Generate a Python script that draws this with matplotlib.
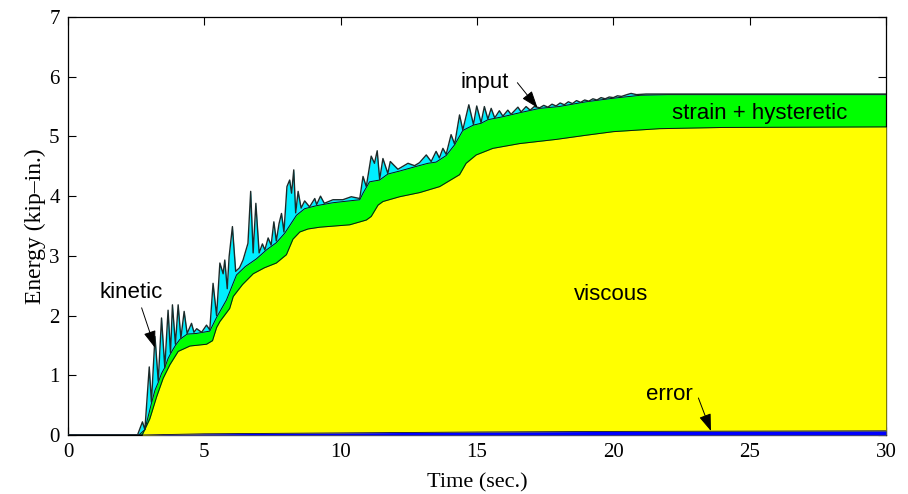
import matplotlib
matplotlib.use("Agg")
import matplotlib.pyplot as plt

# ---- data ----
# cumulative energy curves, each on its own time base
t_input = [0, 2.55, 2.73, 2.82, 2.98, 3.06, 3.19, 3.31, 3.43, 3.55, 3.67, 3.76, 3.83, 3.94,
           4.04, 4.14, 4.26, 4.37, 4.53, 4.62, 4.72, 4.90, 5.08, 5.20, 5.32, 5.45, 5.57, 5.69,
           5.75, 5.84, 5.91, 6.03, 6.15, 6.29, 6.42, 6.60, 6.70, 6.79, 6.89, 7.01, 7.13, 7.22,
           7.34, 7.45, 7.55, 7.64, 7.74, 7.83, 7.92, 8.03, 8.13, 8.20, 8.28, 8.35, 8.44, 8.55,
           8.68, 8.86, 9.05, 9.12, 9.26, 9.40, 9.72, 10.08, 10.39, 10.70, 10.82, 10.94, 11.12,
           11.24, 11.34, 11.43, 11.55, 11.73, 11.82, 12.10, 12.47, 12.71, 12.89, 13.14, 13.32,
           13.50, 13.62, 13.75, 13.87, 14.05, 14.18, 14.36, 14.48, 14.70, 14.87, 14.99, 15.15,
           15.27, 15.40, 15.52, 15.65, 15.82, 15.95, 16.13, 16.25, 16.50, 16.62, 16.80, 16.95,
           17.10, 17.30, 17.45, 17.60, 17.75, 17.90, 18.05, 18.20, 18.35, 18.50, 18.65, 18.80,
           18.95, 19.10, 19.25, 19.40, 19.55, 19.70, 19.85, 20.00, 20.15, 20.30, 20.50, 20.65,
           20.85, 21.20, 22.0, 24.0, 26.0, 28.0, 30.0]
input_energy = [0, 0, 0.22, 0.09, 1.14, 0.55, 1.65, 0.90, 1.96, 1.13, 2.09, 1.37, 2.18, 1.52,
                2.18, 1.62, 2.07, 1.70, 1.87, 1.72, 1.78, 1.72, 1.84, 1.76, 2.54, 2.00, 2.88, 2.70,
                2.93, 2.45, 2.99, 3.49, 2.74, 2.80, 2.93, 3.21, 4.08, 3.05, 3.88, 3.05, 3.20, 3.10,
                3.30, 3.18, 3.57, 3.25, 3.54, 3.71, 3.40, 4.16, 4.27, 4.05, 4.44, 3.72, 4.08, 3.80,
                3.92, 3.82, 3.96, 3.86, 4.00, 3.88, 3.94, 3.94, 3.99, 3.96, 4.33, 4.16, 4.67,
                4.55, 4.76, 4.28, 4.63, 4.38, 4.58, 4.45, 4.55, 4.51, 4.56, 4.69, 4.58,
                4.75, 4.64, 4.80, 4.70, 5.03, 4.87, 5.36, 5.11, 5.53, 5.20, 5.51, 5.23,
                5.50, 5.29, 5.47, 5.31, 5.43, 5.34, 5.44, 5.37, 5.49, 5.41, 5.50, 5.44,
                5.50, 5.48, 5.52, 5.49, 5.54, 5.51, 5.56, 5.53, 5.58, 5.55, 5.60, 5.57,
                5.61, 5.59, 5.63, 5.61, 5.65, 5.63, 5.66, 5.65, 5.68, 5.67, 5.70, 5.72,
                5.70, 5.71, 5.71, 5.71, 5.71, 5.71, 5.71]

t_strain = [0, 2.60, 2.82, 3.06, 3.19, 3.31, 3.43, 3.55, 3.67, 3.76, 3.86, 3.94, 4.10, 4.37,
            4.70, 5.20, 5.45, 5.81, 6.18, 6.50, 6.91, 7.28, 7.64, 7.95, 8.38, 8.68, 9.11, 9.72,
            10.70, 10.82, 11.06, 11.43, 11.73, 12.16, 12.71, 13.20, 13.50, 13.87, 14.18, 14.48,
            14.87, 15.15, 15.40, 15.95, 16.60, 17.30, 18.0, 19.0, 20.0, 21.0, 22.0, 30.0]
strain_top = [0, 0, 0.09, 0.53, 0.75, 0.88, 1.03, 1.13, 1.28, 1.36, 1.44, 1.50, 1.60, 1.69,
              1.70, 1.74, 1.97, 2.26, 2.68, 2.82, 2.95, 3.10, 3.22, 3.38, 3.68, 3.79, 3.84, 3.89,
              3.94, 4.05, 4.24, 4.27, 4.37, 4.42, 4.49, 4.55, 4.57, 4.68, 4.86, 5.10,
              5.19, 5.22, 5.28, 5.33, 5.40, 5.47, 5.50, 5.58, 5.64, 5.69, 5.70, 5.70]

t_viscous = [0, 2.72, 3.00, 3.25, 3.49, 3.74, 4.04, 4.47, 5.08, 5.30, 5.45, 5.57, 5.93, 6.06,
             6.40, 6.79, 7.20, 7.64, 8.01, 8.25, 8.50, 8.80, 9.23, 10.33, 10.94, 11.12, 11.37,
             11.55, 12.16, 12.90, 13.63, 14.36, 14.60, 14.97, 15.58, 16.56, 17.90, 19.0, 20.0,
             21.7, 24.0, 30.0]
viscous_top = [0, 0, 0.27, 0.64, 0.95, 1.18, 1.40, 1.49, 1.52, 1.58, 1.80, 1.90, 2.12, 2.32,
               2.52, 2.70, 2.80, 2.88, 3.02, 3.28, 3.40, 3.45, 3.48, 3.52, 3.60, 3.66, 3.85,
               3.91, 3.99, 4.06, 4.16, 4.36, 4.55, 4.69, 4.80, 4.88, 4.95, 5.02, 5.08,
               5.13, 5.15, 5.16]

t_error = [0, 2.7, 5, 10, 15, 20, 25, 30]
error_energy = [0, 0, 0.02, 0.035, 0.05, 0.06, 0.065, 0.07]

x_ticks = [0, 5, 10, 15, 20, 25, 30]
y_ticks = [0, 1, 2, 3, 4, 5, 6, 7]

# ---- figure ----
fig = plt.figure(figsize=(9.08, 4.94), dpi=100)
ax = fig.add_axes([68 / 908, 59 / 494, 818 / 908, 418 / 494])

ax.fill_between(t_input, 0, input_energy, color="#00EEFF", lw=0, zorder=1)
ax.fill_between(t_strain, 0, strain_top, color="#00FF00", lw=0, zorder=2)
ax.fill_between(t_viscous, 0, viscous_top, color="#FFFF00", lw=0, zorder=3)
ax.fill_between(t_error, 0, error_energy, color="#0000FF", lw=0, zorder=4)

ax.plot(t_viscous, viscous_top, color="#111111", lw=0.7, zorder=5)
ax.plot(t_strain, strain_top, color="#111111", lw=0.7, zorder=5)
ax.plot(t_error, error_energy, color="#000044", lw=0.6, zorder=5)
ax.plot(t_input, input_energy, color="#1a2a2a", lw=1.0, zorder=6)

ax.set_xlim(0, 30)
ax.set_ylim(0, 7)
ax.set_xticks(x_ticks)
ax.set_yticks(y_ticks)
ax.tick_params(direction="in", top=True, right=True, length=6, width=0.8,
               labelsize=15, pad=6)
for lab in ax.get_xticklabels() + ax.get_yticklabels():
    lab.set_family("Liberation Serif")
for s in ax.spines.values():
    s.set_linewidth(0.9)

ax.set_xlabel("Time (sec.)", family="Liberation Serif", fontsize=16, labelpad=8)
ax.set_ylabel("Energy (kip–in.)", family="Liberation Serif", fontsize=17, labelpad=2)

afont = dict(family="Liberation Sans", fontsize=16, zorder=10)
arrow = dict(arrowstyle="-|>,head_length=0.7,head_width=0.25", color="black", lw=0.7,
             mutation_scale=15, shrinkA=0, shrinkB=0)

ax.text(2.31, 2.38, "kinetic", ha="center", va="center", **afont)
ax.annotate("", xy=(3.19, 1.46), xytext=(2.70, 2.13), arrowprops=arrow, zorder=10)
ax.text(15.3, 5.91, "input", ha="center", va="center", **afont)
ax.annotate("", xy=(17.22, 5.48), xytext=(16.48, 5.90), arrowprops=arrow, zorder=10)
ax.text(22.05, 0.67, "error", ha="center", va="center", **afont)
ax.annotate("", xy=(23.58, 0.067), xytext=(23.12, 0.62), arrowprops=arrow, zorder=10)
ax.text(25.35, 5.39, "strain + hysteretic", ha="center", va="center", **afont)
ax.text(19.9, 2.36, "viscous", ha="center", va="center", **afont)

fig.savefig("out.png", dpi=100)
